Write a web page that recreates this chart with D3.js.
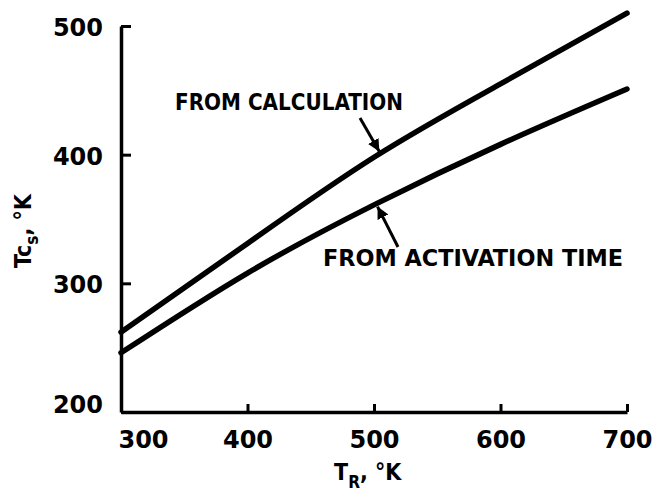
<!DOCTYPE html>
<html>
<head>
<meta charset="utf-8">
<script src="https://cdn.jsdelivr.net/npm/d3@7"></script>
<style>
  body { margin: 0; background: #fff; }
  text { font-family: "DejaVu Sans Condensed", "DejaVu Sans", sans-serif; font-weight: bold; fill: #000; }
</style>
</head>
<body>
<div id="chart"></div>
<script>
// values (T_R in K, Tc_s in K)
var tempR = [300, 400, 500, 600, 700];
var fromCalculation = [262, 331, 398, 455, 510];
var fromActivation = [246, 308, 361, 408, 451];
var xTicks = [300, 400, 500, 600, 700];
var yTicks = [200, 300, 400, 500];

var W = 659, H = 499;
var margin = { top: 26, right: 32, bottom: 87, left: 121 };
var width = W - margin.left - margin.right;
var height = H - margin.top - margin.bottom;

var svg = d3.select("#chart").append("svg")
    .attr("width", W)
    .attr("height", H);

var g = svg.append("g")
    .attr("transform", "translate(" + margin.left + "," + margin.top + ")");

var x = d3.scaleLinear().domain([300, 700]).range([0, width]);
var y = d3.scaleLinear().domain([200, 500]).range([height, 0]);

// axes, ticks point inward
var xAxis = g.append("g")
    .attr("transform", "translate(0," + height + ")")
    .call(d3.axisBottom(x).tickValues(xTicks).tickSize(-8).tickSizeOuter(0).tickPadding(12));
var yAxis = g.append("g")
    .call(d3.axisLeft(y).tickValues(yTicks).tickSize(-10).tickSizeOuter(0).tickPadding(18));

[xAxis, yAxis].forEach(function (a) {
    a.select(".domain").attr("stroke", "#000").attr("stroke-width", 3.5);
    a.selectAll(".tick line").attr("stroke", "#000").attr("stroke-width", 3);
    a.selectAll(".tick text")
        .style("font-family", "'DejaVu Sans', sans-serif")
        .style("font-weight", "bold")
        .attr("font-size", 24)
        .attr("fill", "#000");
});
xAxis.selectAll(".tick text").attr("dy", "1em");
// first x label sits to the right of the corner
xAxis.selectAll(".tick").filter(function (d) { return d === 300; })
    .select("text").attr("x", 22);
yAxis.selectAll(".tick text").attr("dy", "0.4em");
yAxis.selectAll(".tick").filter(function (d) { return d === 200; })
    .select("text").attr("dy", "0.0em");

// curves
var line = d3.line()
    .x(function (d) { return x(d[0]); })
    .y(function (d) { return y(d[1]); })
    .curve(d3.curveNatural);

[fromCalculation, fromActivation].forEach(function (s) {
    g.append("path")
        .datum(tempR.map(function (t, i) { return [t, s[i]]; }))
        .attr("fill", "none")
        .attr("stroke", "#000")
        .attr("stroke-width", 5.5)
        .attr("stroke-linecap", "round")
        .attr("d", line);
});

// arrow marker
svg.append("defs").append("marker")
    .attr("id", "arrow")
    .attr("viewBox", "0 0 10 10")
    .attr("refX", 10).attr("refY", 5)
    .attr("markerWidth", 4).attr("markerHeight", 4)
    .attr("orient", "auto")
    .append("path").attr("d", "M0,0 L10,5 L0,10 z").attr("fill", "#000");

// annotations
g.append("text")
    .attr("x", 54).attr("y", 84)
    .attr("font-size", 23)
    .attr("textLength", 228)
    .attr("lengthAdjust", "spacingAndGlyphs")
    .text("FROM CALCULATION");
g.append("line")
    .attr("x1", 239).attr("y1", 92)
    .attr("x2", x(505) - 1).attr("y2", y(401) - 2)
    .attr("stroke", "#000").attr("stroke-width", 3)
    .attr("marker-end", "url(#arrow)");

g.append("text")
    .attr("x", 202).attr("y", 240)
    .attr("font-size", 23)
    .attr("textLength", 300)
    .attr("lengthAdjust", "spacingAndGlyphs")
    .text("FROM ACTIVATION TIME");
g.append("line")
    .attr("x1", 277).attr("y1", 221)
    .attr("x2", x(502) + 1).attr("y2", y(362) + 3)
    .attr("stroke", "#000").attr("stroke-width", 3)
    .attr("marker-end", "url(#arrow)");

// axis titles
var xt = svg.append("text")
    .attr("x", 334).attr("y", 480)
    .attr("font-size", 23);
xt.append("tspan").text("T");
xt.append("tspan").attr("dy", 8).attr("font-size", 17).text("R");
xt.append("tspan").attr("dy", -8).text(", °K");

var yt = svg.append("text")
    .attr("transform", "translate(31,268) rotate(-90)")
    .attr("font-size", 23);
yt.append("tspan").text("Tc");
yt.append("tspan").attr("dy", 7).attr("font-size", 17).text("s");
yt.append("tspan").attr("dy", -7).text(", °K");
</script>
</body>
</html>
